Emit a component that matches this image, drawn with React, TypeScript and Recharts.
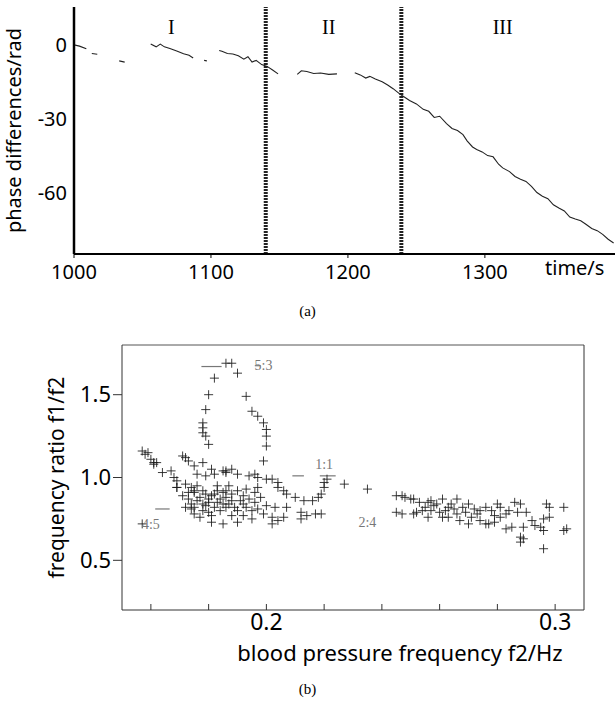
import React from "react";
import {
  Line,
  LineChart,
  ReferenceDot,
  ReferenceLine,
  Scatter,
  ScatterChart,
  XAxis,
  YAxis,
} from "recharts";

const SANS = "'Noto Sans', sans-serif";
const SERIF = "'Liberation Serif', serif";
const INK = "#1a1a1a";
const FAINT = "#777";

// (a) phase difference over time; null = gap in the trace
const TIME = [
  1000, 1004, 1009, 1012, 1013, 1017, 1020, 1033, 1037, 1040, 1056, 1060, 1063, 1066, 1070, 1075, 1080, 1084, 1087,
  1090, 1095, 1097, 1100, 1106, 1108, 1112, 1116, 1120, 1124, 1127, 1130, 1133, 1137, 1141, 1145, 1149, 1152, 1163,
  1166, 1170, 1175, 1180, 1186, 1192, 1196, 1205, 1209, 1213, 1216, 1220, 1225, 1229, 1233, 1238, 1242, 1245, 1250,
  1255, 1259, 1263, 1267, 1272, 1276, 1280, 1284, 1287, 1291, 1294, 1298, 1302, 1306, 1310, 1313, 1318, 1322, 1326,
  1330, 1334, 1338, 1342, 1346, 1350, 1354, 1358, 1362, 1366, 1370, 1374, 1378, 1382, 1386, 1390, 1394,
];
const PHASE = [
  0, -0.5, -1.6, null, -3.5, -3.8, null, -6.5, -7, null, 0.4, -0.8, 0.3, -0.8, -1.5, -2.5, -3.6, -4.2, -5.3, null,
  -6.3, -6.5, null, -2.3, -2.6, -3.5, -3.7, -4.4, -5.8, -4.8, -7, -6.3, -8, -8.75, -10.2, -11.8, null, -12, -10.5,
  -10.8, -11.6, -11.4, -12, -11.8, null, -11.3, -12.2, -13.5, -12.8, -13.9, -15, -16.3, -17.8, -20, -21.5, -22.6, -24,
  -26.2, -27, -29.5, -29, -32, -34, -34.8, -36.5, -39, -41.5, -42.5, -43.5, -45, -45.5, -48.5, -50, -51.5, -53.5,
  -54.6, -55.5, -57.5, -60, -61.5, -62.5, -65, -66.3, -67.5, -70, -70.8, -71.5, -73, -74.6, -75.5, -77, -79, -80.5,
];
const TIME_TICKS = [1000, 1100, 1200, 1300];
const PHASE_TICKS = [-60, -30, 0];
const BOUNDARIES = [1140, 1239];
const REGIMES = [
  { t: 1071, label: "I" },
  { t: 1186, label: "II" },
  { t: 1313, label: "III" },
];

// (b) frequency ratio vs blood pressure frequency, [f2, f1/f2]
const LOOP_53 = [
  [0.186, 1.69], [0.188, 1.69], [0.182, 1.6], [0.18, 1.5], [0.179, 1.41], [0.178, 1.33], [0.178, 1.3], [0.178, 1.27],
  [0.179, 1.25], [0.18, 1.2], [0.19, 1.63], [0.193, 1.49], [0.195, 1.4], [0.197, 1.37], [0.199, 1.33], [0.2, 1.29],
  [0.2, 1.25], [0.2, 1.19], [0.199, 1.1],
];
const LEFT_ARM = [
  [0.157, 1.16], [0.159, 1.15], [0.158, 1.14], [0.16, 1.11], [0.161, 1.09], [0.161, 1.08], [0.162, 1.09],
  [0.164, 1.03], [0.167, 1.04], [0.168, 1.0], [0.169, 0.98], [0.169, 0.94], [0.157, 0.72],
];
const UPPER_ARM = [
  [0.171, 1.13], [0.172, 1.12], [0.173, 1.1], [0.175, 1.07], [0.176, 1.02], [0.178, 1.09], [0.179, 1.01],
  [0.181, 1.05], [0.182, 1.02], [0.185, 1.04], [0.186, 1.03], [0.186, 1.04], [0.188, 1.05], [0.19, 1.02],
  [0.194, 1.01], [0.196, 1.02], [0.197, 1.0], [0.2, 0.99], [0.202, 0.99],
];
const ARC_11 = [
  [0.204, 0.97], [0.204, 0.94], [0.206, 0.92], [0.207, 0.9], [0.21, 0.88], [0.213, 0.86], [0.216, 0.86],
  [0.218, 0.88], [0.219, 0.9], [0.22, 0.94], [0.22, 0.97], [0.221, 0.99], [0.227, 0.96], [0.235, 0.93],
];
const MAIN_CLUSTER = [
  [0.172, 0.96], [0.174, 0.94], [0.175, 0.92], [0.175, 0.91], [0.178, 0.92], [0.179, 0.9], [0.181, 0.89],
  [0.183, 0.92], [0.185, 0.91], [0.186, 0.88], [0.173, 0.87], [0.174, 0.84], [0.175, 0.82], [0.174, 0.81],
  [0.175, 0.78], [0.178, 0.84], [0.18, 0.85], [0.182, 0.82], [0.183, 0.85], [0.185, 0.84], [0.186, 0.82],
  [0.181, 0.73], [0.185, 0.72], [0.172, 0.82], [0.169, 0.94], [0.171, 0.89], [0.186, 0.92], [0.188, 0.9],
  [0.19, 0.92], [0.192, 0.89], [0.194, 0.87], [0.196, 0.91], [0.197, 0.94], [0.187, 0.84], [0.189, 0.82],
  [0.192, 0.84], [0.195, 0.8], [0.197, 0.81], [0.2, 0.83], [0.203, 0.82], [0.207, 0.82], [0.199, 0.78],
  [0.202, 0.76], [0.204, 0.74], [0.206, 0.76], [0.212, 0.79], [0.214, 0.77], [0.217, 0.78], [0.219, 0.78],
  [0.212, 0.75], [0.188, 0.77], [0.192, 0.77], [0.195, 0.75], [0.202, 0.72], [0.19, 0.73], [0.177, 0.88],
  [0.176, 0.86], [0.18, 0.87], [0.182, 0.9], [0.184, 0.8], [0.178, 0.8], [0.18, 0.79], [0.191, 0.86],
  [0.193, 0.93], [0.198, 0.88], [0.173, 0.91], [0.176, 0.95], [0.179, 0.83], [0.184, 0.87], [0.188, 0.86],
  [0.19, 0.8], [0.193, 0.82], [0.196, 0.85], [0.183, 0.95], [0.187, 0.95], [0.177, 0.76], [0.181, 0.77],
];
const RIGHT_CLUSTER = [
  [0.245, 0.89], [0.247, 0.89], [0.25, 0.87], [0.251, 0.87], [0.253, 0.85], [0.256, 0.85], [0.257, 0.86],
  [0.259, 0.84], [0.261, 0.87], [0.266, 0.87], [0.263, 0.82], [0.265, 0.81], [0.268, 0.82], [0.27, 0.84],
  [0.272, 0.81], [0.274, 0.8], [0.276, 0.82], [0.245, 0.79], [0.247, 0.78], [0.251, 0.78], [0.252, 0.79],
  [0.254, 0.8], [0.257, 0.8], [0.256, 0.76], [0.261, 0.76], [0.263, 0.76], [0.267, 0.74], [0.27, 0.72],
  [0.271, 0.76], [0.274, 0.74], [0.276, 0.72], [0.26, 0.79], [0.266, 0.78], [0.269, 0.79], [0.273, 0.78],
  [0.278, 0.8], [0.28, 0.84], [0.281, 0.82], [0.284, 0.8], [0.286, 0.85], [0.288, 0.84], [0.287, 0.79],
  [0.29, 0.79], [0.281, 0.76], [0.285, 0.7], [0.289, 0.7], [0.292, 0.74], [0.293, 0.71], [0.295, 0.7],
  [0.296, 0.75], [0.298, 0.76], [0.296, 0.68], [0.297, 0.84], [0.298, 0.82], [0.303, 0.82], [0.288, 0.64],
  [0.288, 0.61], [0.289, 0.63], [0.296, 0.57], [0.303, 0.68], [0.304, 0.69], [0.277, 0.72], [0.279, 0.73],
  [0.283, 0.69], [0.258, 0.83], [0.262, 0.8], [0.264, 0.84], [0.279, 0.77], [0.283, 0.78], [0.248, 0.88],
  [0.255, 0.82],
];
const F2_TICKS = [0.16, 0.18, 0.2, 0.22, 0.24, 0.26, 0.28, 0.3];
const RATIO_TICKS = [0.5, 1.0, 1.5];
const LOCKING_LABELS = [
  { f2: 0.199, r: 1.68, label: "5:3" },
  { f2: 0.22, r: 1.08, label: "1:1" },
  { f2: 0.16, r: 0.72, label: "4:5" },
  { f2: 0.235, r: 0.73, label: "2:4" },
];
const LOCKING_DASHES = [
  [0.1775, 0.1845, 1.67],
  [0.196, 0.198, 1.675],
  [0.209, 0.213, 1.01],
  [0.2185, 0.224, 1.01],
  [0.1615, 0.1665, 0.81],
];

const phaseData = TIME.map((t, i) => ({ t, phase: PHASE[i] }));
const toPoints = (pairs: number[][]) => pairs.map(([f2, r]) => ({ f2, r }));
const scatterData = toPoints([...LOOP_53, ...LEFT_ARM, ...UPPER_ARM, ...ARC_11, ...MAIN_CLUSTER, ...RIGHT_CLUSTER]);

function PlusMark(props: any) {
  const { cx, cy } = props;
  if (cx == null || cy == null) return null;
  return <path d={`M${cx - 4.5},${cy}h9M${cx},${cy - 4.5}v9`} stroke={INK} strokeWidth={1} strokeOpacity={0.85} />;
}

const tickA = { fill: "#000", fontSize: 20, fontFamily: SANS };
const tickB = { fill: "#000", fontSize: 22, fontFamily: SANS };

function PhasePanel() {
  return (
    <LineChart width={615} height={290} data={phaseData} margin={{ top: 7, right: 0, bottom: 0, left: 0 }}>
      <XAxis
        dataKey="t"
        type="number"
        domain={[1000, 1395]}
        ticks={TIME_TICKS}
        allowDataOverflow
        height={36}
        tick={tickA}
        tickSize={4}
        tickMargin={7}
        axisLine={{ stroke: "#000", strokeWidth: 2 }}
        tickLine={{ stroke: "#000" }}
      />
      <YAxis
        type="number"
        domain={[-85, 15.4]}
        ticks={PHASE_TICKS}
        allowDataOverflow
        width={74}
        tick={tickA}
        tickSize={0}
        tickMargin={7}
        axisLine={{ stroke: "#000", strokeWidth: 2.5 }}
        tickLine={false}
        label={{
          value: "phase differences/rad",
          angle: -90,
          position: "center",
          dx: -23,
          style: { fontSize: 20, fontFamily: SANS, fill: "#000" },
        }}
      />
      {BOUNDARIES.map((t) => (
        <ReferenceLine key={t} x={t} stroke="#222" strokeWidth={4} strokeDasharray="2 1" />
      ))}
      {REGIMES.map((g) => (
        <ReferenceDot
          key={g.label}
          x={g.t}
          y={7.3}
          r={0}
          fill="none"
          stroke="none"
          label={{ value: g.label, position: "center", style: { fontSize: 20, fontFamily: SERIF, fill: "#000" } }}
        />
      ))}
      <Line
        type="linear"
        dataKey="phase"
        stroke="#222"
        strokeWidth={1.1}
        dot={false}
        connectNulls={false}
        isAnimationActive={false}
      />
    </LineChart>
  );
}

function RatioPanel() {
  return (
    <ScatterChart width={615} height={345} margin={{ top: 14, right: 30, bottom: 0, left: 0 }}>
      <XAxis
        xAxisId="bottom"
        dataKey="f2"
        type="number"
        domain={[0.15, 0.31]}
        ticks={F2_TICKS}
        allowDataOverflow
        height={65}
        tick={{ ...tickB, fontSize: 23 }}
        tickFormatter={(v: number) => (Math.abs(v - 0.2) < 1e-6 || Math.abs(v - 0.3) < 1e-6 ? v.toFixed(1) : "")}
        tickSize={-6}
        tickMargin={10}
        axisLine={{ stroke: "#333" }}
        tickLine={{ stroke: "#333" }}
        label={{
          value: "blood pressure frequency f2/Hz",
          position: "center",
          dx: 47,
          dy: 11,
          style: { fontSize: 22, fontFamily: SANS, fill: "#000" },
        }}
      />
      <XAxis
        xAxisId="top"
        orientation="top"
        type="number"
        domain={[0.15, 0.31]}
        ticks={F2_TICKS}
        allowDataOverflow
        height={1}
        tick={false}
        tickSize={-7}
        axisLine={{ stroke: "#555" }}
        tickLine={{ stroke: "#333" }}
      />
      <YAxis
        yAxisId="left"
        dataKey="r"
        type="number"
        domain={[0.2, 1.8]}
        ticks={RATIO_TICKS}
        allowDataOverflow
        width={122}
        tick={tickB}
        tickFormatter={(v: number) => v.toFixed(1)}
        tickSize={9}
        tickMargin={2}
        axisLine={{ stroke: "#333" }}
        tickLine={{ stroke: "#333" }}
        label={{
          value: "frequency ratio f1/f2",
          angle: -90,
          position: "center",
          dx: -4,
          style: { fontSize: 21, fontFamily: SANS, fill: "#000" },
        }}
      />
      <YAxis
        yAxisId="right"
        orientation="right"
        type="number"
        domain={[0.2, 1.8]}
        ticks={RATIO_TICKS}
        allowDataOverflow
        width={1}
        tick={false}
        tickSize={-9}
        axisLine={{ stroke: "#333" }}
        tickLine={{ stroke: "#333" }}
      />
      {LOCKING_DASHES.map(([x1, x2, y], i) => (
        <ReferenceLine
          key={i}
          xAxisId="bottom"
          yAxisId="left"
          segment={[
            { x: x1, y },
            { x: x2, y },
          ]}
          stroke={FAINT}
          strokeWidth={1.2}
        />
      ))}
      {LOCKING_LABELS.map((l) => (
        <ReferenceDot
          key={l.label}
          xAxisId="bottom"
          yAxisId="left"
          x={l.f2}
          y={l.r}
          r={0}
          fill="none"
          stroke="none"
          label={{ value: l.label, position: "center", style: { fontSize: 14, fontFamily: SERIF, fill: FAINT } }}
        />
      ))}
      <Scatter
        xAxisId="bottom"
        yAxisId="left"
        data={scatterData}
        shape={PlusMark}
        isAnimationActive={false}
      />
    </ScatterChart>
  );
}

const caption: React.CSSProperties = {
  position: "absolute",
  left: 0,
  width: 615,
  textAlign: "center",
  fontFamily: SERIF,
  fontSize: 15,
  color: "#000",
  lineHeight: "18px",
};

export default function App() {
  return (
    <div style={{ position: "absolute", left: 0, top: 0, width: 615, height: 708, background: "#fff", overflow: "hidden" }}>
      <div style={{ position: "absolute", left: 0, top: 0 }}>
        <PhasePanel />
      </div>
      <div
        style={{
          position: "absolute",
          left: 545,
          top: 255,
          fontFamily: SANS,
          fontSize: 20,
          lineHeight: "26px",
          color: "#000",
        }}
      >
        time/s
      </div>
      <div style={{ ...caption, top: 302 }}>(a)</div>
      <div style={{ position: "absolute", left: 0, top: 330 }}>
        <RatioPanel />
      </div>
      <div style={{ ...caption, top: 680 }}>(b)</div>
    </div>
  );
}
